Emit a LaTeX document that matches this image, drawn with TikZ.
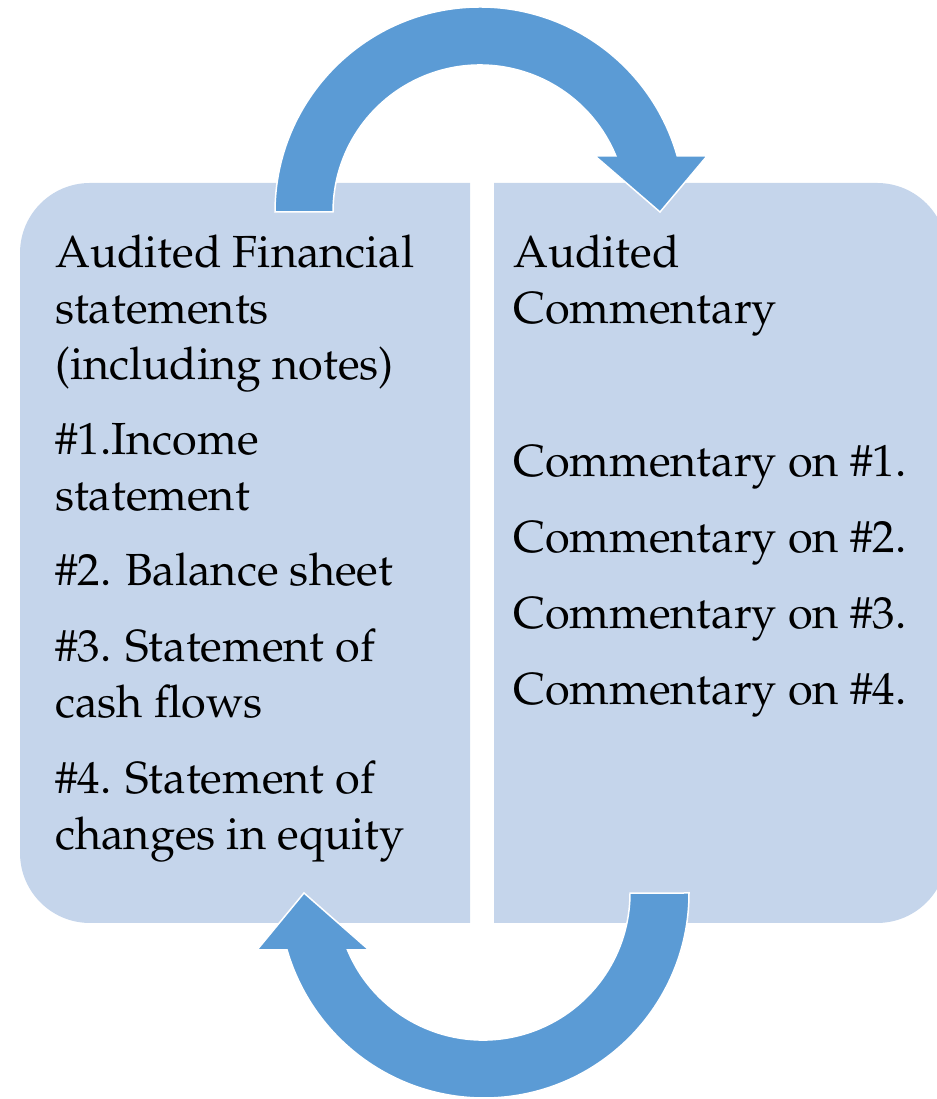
\documentclass[tikz,border=0pt]{standalone}
\usepackage[T1]{fontenc}
\usepackage{mathpazo}
\usepackage{tikz}
\definecolor{panelblue}{RGB}{197,213,235}
\definecolor{arrowblue}{RGB}{91,155,213}

\begin{document}
\begin{tikzpicture}[x=1pt, y=1pt,
    every node/.style={anchor=base west, align=left, inner sep=0pt, font=\fontsize{45}{56}\selectfont},
    panel/.style={fill=panelblue},
    bigarrow/.style={fill=arrowblue, draw=white, line width=1.5pt}]
\useasboundingbox (0,0) rectangle (936,1099);

% the two panels, rounded on the outer side only
\fill[panel] (470,176) -- (90,176) arc[start angle=270, end angle=180, radius=70]
    -- (20,846) arc[start angle=180, end angle=90, radius=70] -- (470,916) -- cycle;
\fill[panel] (494,176) -- (877,176) arc[start angle=-90, end angle=0, radius=70]
    -- (947,846) arc[start angle=0, end angle=90, radius=70] -- (494,916) -- cycle;

% curved arrow over the top, left to right
\draw[bigarrow] (275,887) arc[start angle=180, end angle=15.85, radius=205]
    -- (707,943) -- (660,887) -- (595,943) -- (615.9,943)
    arc[start angle=22.4, end angle=180, radius=147] -- cycle;
% curved arrow under the bottom, right to left
\draw[bigarrow] (689,206) arc[start angle=0, end angle=-163.9, radius=205]
    -- (257,149) -- (304,206) -- (369,149) -- (347.5,149)
    arc[start angle=-157.2, end angle=0, radius=147] -- cycle;

% left panel text (base = last line)
\node (fin) at (55,719) {Audited Financial\\statements\\(including notes)};
\node (inc) at (55,588) {\#1.Income\\statement};
\node (bal) at (55,513) {\#2. Balance sheet};
\node (cash) at (55,381) {\#3. Statement of\\cash flows};
\node (eq) at (55,249) {\#4. Statement of\\changes in equity};

% right panel text
\node (audcom) at (513,775) {Audited\\Commentary};
\node (com1) at (513,622) {Commentary on \#1.};
\node (com2) at (513,546) {Commentary on \#2.};
\node (com3) at (513,470) {Commentary on \#3.};
\node (com4) at (513,394) {Commentary on \#4.};
\end{tikzpicture}
\end{document}
